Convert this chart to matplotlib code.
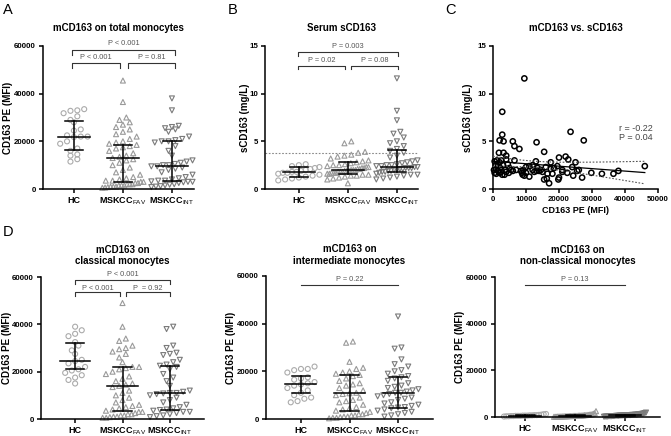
import numpy as np
import matplotlib
matplotlib.use("Agg")
import matplotlib.pyplot as plt

plt.rcParams["font.family"] = ["Liberation Sans", "DejaVu Sans"]
plt.rcParams["mathtext.fontset"] = "custom"
plt.rcParams["mathtext.rm"] = "Liberation Sans"

GROUPS = ["HC", r"MSKCC$_{\mathrm{FAV}}$", r"MSKCC$_{\mathrm{INT}}$"]

# ── A: mCD163 on total monocytes ───────────────────────────────
A_HC = [33500, 33000, 32800, 31800, 30500, 29000, 28000, 25000, 24500, 22500,
        22000, 22000, 21800, 20000, 19000, 17000, 16000, 14500, 14000, 12500, 11500]
A_FAV = [45500, 36500, 30000, 29000, 28000, 27000, 26000, 25000, 24000, 23000,
         22000, 21000, 20000, 19500, 19000, 18500, 18000, 17500, 17000, 16000,
         15000, 14000, 13500, 13000, 12500, 12000, 11000, 10000, 9000, 8000,
         7000, 6000, 5000, 4500, 4000, 3500, 3500, 3000, 3000, 2500, 2500, 2000,
         2000, 2000, 1500, 1500, 1500, 1000, 1000, 1000, 800, 600, 500]
A_INT = [38000, 33000, 26500, 26000, 25500, 25000, 24000, 22000, 21000, 20500,
         20000, 20000, 19500, 18000, 16000, 14000, 12000, 11500, 11000, 10500,
         10000, 10000, 9500, 9500, 9000, 8500, 8000, 7000, 6000, 5000, 4500,
         4000, 3500, 3500, 3200, 3000, 3000, 2800, 2500, 2000, 1800, 1500, 1200,
         1000, 800]
A_MED = [22000, 13000, 9800]
A_Q1 = [16500, 3000, 3500]
A_Q3 = [28500, 18500, 20000]

# ── B: serum sCD163 ────────────────────────────────────────────
B_HC = [2.6, 2.5, 2.4, 2.3, 2.2, 2.1, 2.0, 1.9, 1.8, 1.8, 1.7, 1.7, 1.6, 1.5,
        1.4, 1.3, 1.2, 1.1, 1.0, 0.9]
B_FAV = [5.0, 4.8, 3.9, 3.8, 3.6, 3.5, 3.4, 3.2, 3.0, 2.9, 2.8, 2.7, 2.6, 2.5,
         2.5, 2.4, 2.3, 2.3, 2.2, 2.2, 2.1, 2.1, 2.0, 2.0, 2.0, 1.9, 1.9, 1.9,
         1.8, 1.8, 1.8, 1.7, 1.7, 1.7, 1.6, 1.6, 1.5, 1.5, 1.4, 1.4, 1.3, 1.2,
         1.1, 1.0, 0.6]
B_INT = [11.6, 8.2, 7.2, 6.0, 5.8, 5.4, 5.0, 4.8, 4.5, 4.2, 4.0, 3.8, 3.5, 3.3,
         3.0, 2.9, 2.8, 2.7, 2.6, 2.5, 2.5, 2.4, 2.4, 2.3, 2.3, 2.2, 2.2, 2.2,
         2.1, 2.1, 2.0, 2.0, 1.9, 1.9, 1.8, 1.8, 1.7, 1.6, 1.5, 1.5, 1.4, 1.3,
         1.2, 1.1, 1.0]
B_MED = [1.8, 2.0, 2.3]
B_Q1 = [1.3, 1.6, 1.8]
B_Q3 = [2.3, 2.8, 4.1]
B_CUTOFF = 3.75

# ── C: mCD163 vs sCD163 ────────────────────────────────────────
C_X = [9500, 2800, 2800, 2000, 3200, 6000, 6500, 8000, 13200, 23500, 27500,
       15500, 1800, 3200, 4000, 20000, 22000, 22800, 17500, 25000, 500, 1200,
       2500, 6500, 13000, 800, 1500, 2200, 3000, 4500, 5000, 10000, 11000,
       12000, 13500, 14500, 16000, 18500, 19500, 21000, 24000, 26000, 46000,
       38000, 36500, 33000, 29800, 27000, 25500, 24300, 21000, 20000, 19800,
       18000, 17000, 16300, 15500, 15000, 14000, 12500, 11000, 10000, 9000,
       8500, 9200, 7000, 5500, 4000, 3500, 2800, 2000, 1500, 1000, 500, 300,
       1000, 2500, 3800, 4800, 6000, 8800, 12000, 13200, 16500, 17500, 22500,
       9500, 2000, 4000]
C_Y = [11.6, 8.1, 5.7, 5.1, 5.0, 5.0, 4.5, 4.2, 4.9, 6.0, 5.1, 3.9, 3.8, 3.8,
       3.5, 3.3, 3.4, 3.1, 2.8, 2.8, 2.9, 3.0, 3.0, 3.0, 2.9, 2.5, 2.4, 2.2,
       2.5, 2.6, 2.2, 2.3, 2.4, 2.5, 2.2, 2.0, 2.3, 2.2, 2.4, 2.0, 2.3, 2.0,
       2.4, 1.9, 1.6, 1.6, 1.7, 1.2, 1.9, 1.4, 1.8, 1.2, 1.0, 1.6, 0.6, 1.1,
       1.0, 1.8, 1.9, 1.8, 1.3, 1.7, 1.5, 1.9, 2.0, 2.0, 2.0, 1.8, 1.5, 1.5,
       1.7, 1.9, 1.6, 1.7, 2.0, 2.1, 1.8, 2.0, 1.7, 1.9, 1.7, 2.0, 1.9, 1.6,
       2.1, 1.7, 1.4, 2.8, 3.1]
C_STATS = "r = -0.22\nP = 0.04"

# ── D: classical / intermediate / non-classical ────────────────
D1_HC = [39000, 37500, 36000, 35000, 32500, 31000, 29000, 27500, 25000, 24500,
         23500, 22000, 21000, 20500, 19500, 18500, 17500, 16500, 15000]
D1_FAV = [49000, 39000, 34000, 33000, 31000, 30000, 29500, 28500, 27500, 26000,
          24000, 22000, 22000, 21500, 21000, 20000, 19000, 18000, 17000, 16000,
          15000, 14500, 14000, 13500, 12000, 11000, 10000, 9000, 8000, 7000,
          6000, 5500, 5000, 4500, 4000, 3500, 3000, 3000, 2500, 2000, 2000,
          1500, 1500, 1000, 1000, 800, 500, 500]
D1_INT = [39000, 38000, 31000, 30000, 28000, 27500, 27000, 25000, 24000, 23000,
          22500, 22000, 21000, 19000, 17500, 16000, 14000, 12000, 11500, 11000,
          11000, 10800, 10500, 10000, 9000, 8000, 7000, 6000, 5000, 4500, 4000,
          3800, 3500, 3000, 3000, 2500, 2000, 1500, 1200, 800]
D1_MED = [24500, 14000, 11000]
D1_Q1 = [21000, 3500, 4000]
D1_Q3 = [32000, 21800, 22500]

D2_HC = [22000, 21000, 21000, 20500, 19500, 17500, 17000, 16500, 15500, 15000,
         14500, 14000, 13000, 12000, 11000, 10000, 9000, 8500, 7500, 7000]
D2_FAV = [32500, 32000, 24000, 21500, 21000, 20000, 19500, 19000, 18500, 18000,
          17000, 16000, 15000, 14500, 14000, 13000, 12000, 11000, 10800, 10500,
          10000, 9000, 8000, 7500, 7000, 6000, 5000, 4500, 4000, 3500, 3000,
          2500, 2000, 2000, 1500, 1500, 1000, 1000, 800, 500, 500, 300]
D2_INT = [43000, 30000, 29500, 25000, 23000, 22000, 20500, 20000, 19000, 18000,
          17500, 17000, 16000, 15000, 14000, 13500, 13000, 12500, 12000, 11500,
          11000, 11000, 10500, 10000, 9500, 9000, 8500, 8000, 7000, 6500, 6000,
          5500, 5000, 4800, 4500, 4000, 3500, 3000, 2500, 2000, 1500, 1000]
D2_MED = [14500, 10800, 11000]
D2_Q1 = [11000, 3500, 4800]
D2_Q3 = [18000, 18500, 17500]

D3_HC = [1300, 1200, 1000, 900, 800, 800, 700, 700, 600, 600, 600, 500, 500,
         500, 400, 400, 300, 300, 200]
D3_FAV = [2500, 1600, 1400, 1200, 1100, 1000, 900, 900, 800, 800, 700, 700,
          600, 600, 600, 500, 500, 500, 500, 400, 400, 400, 400, 300, 300, 300,
          300, 200, 200, 200, 200, 100, 100, 100]
D3_INT = [1900, 1700, 1500, 1400, 1300, 1200, 1200, 1100, 1000, 1000, 900, 900,
          900, 800, 800, 800, 700, 700, 700, 700, 600, 600, 600, 500, 500, 500,
          400, 400, 400, 300, 300, 300, 200, 200, 200, 100]
D3_MED = [600, 500, 700]
D3_Q1 = [400, 300, 400]
D3_Q3 = [800, 800, 1000]

COLORS = ["#ababab", "#9a9a9a", "#7a7a7a"]
MARKERS = ["o", "^", "v"]
W, H = 671, 436
PCOL = "#555555"


def px_axes(x0, x1, ytop, ybot):
    return fig.add_axes([x0 / W, 1 - ybot / H, (x1 - x0) / W, (ybot - ytop) / H])


def style(ax, ylabel, lab_x, xsize=6.5):
    for s in ["top", "right"]:
        ax.spines[s].set_visible(False)
    for s in ["left", "bottom"]:
        ax.spines[s].set_linewidth(1.1)
    ax.tick_params(direction="out", length=3, width=1.1, labelsize=5.7, pad=2)
    ax.tick_params(axis="x", labelsize=xsize)
    for t in ax.get_xticklabels() + ax.get_yticklabels():
        t.set_fontweight("bold")
    ax.set_ylabel(ylabel, fontsize=7, fontweight="bold")
    ax.yaxis.set_label_coords(lab_x, 0.5)


def swarm(vals, ymax, rows=19, dx=0.14, max_half=0.42):
    vals = np.asarray(vals, dtype=float)
    v = np.sort(vals)
    bins = np.floor(v / (ymax / rows))
    x = np.zeros(len(v))
    for b in np.unique(bins):
        m = bins == b
        n = m.sum()
        half = min((n - 1) * dx / 2, max_half)
        x[m] = np.linspace(-half, half, n) if n > 1 else 0
    return x, v


def column_plot(ax, groups, med, q1, q3, ymax, xlim):
    for i, vals in enumerate(groups):
        dxs, v = swarm(vals, ymax)
        ax.scatter(i + dxs, v, s=13, marker=MARKERS[i], facecolors="none",
                   edgecolors=COLORS[i], linewidths=0.8, clip_on=False, zorder=2)
        ax.plot([i - 0.32, i + 0.32], [med[i], med[i]], color="black", lw=1.1, zorder=3)
        ax.plot([i, i], [q1[i], q3[i]], color="black", lw=1.1, zorder=3)
        for q in (q1[i], q3[i]):
            ax.plot([i - 0.19, i + 0.19], [q, q], color="black", lw=1.1, zorder=3)
    ax.set_xlim(*xlim)
    ax.set_ylim(0, ymax)
    ax.set_xticks(range(3))
    ax.set_xticklabels(GROUPS)


def bracket(ax, x1, x2, y, leg, text, ty):
    ax.plot([x1, x1, x2, x2], [leg, y, y, leg], color="#333333", lw=0.8, clip_on=False)
    ax.text((x1 + x2) / 2, ty, text, ha="center", va="center", fontsize=5.3,
            color=PCOL, clip_on=False)


def hline(ax, x1, x2, y, text, ty):
    ax.plot([x1, x2], [y, y], color="#333333", lw=0.8, clip_on=False)
    ax.text((x1 + x2) / 2, ty, text, ha="center", va="center", fontsize=5.3,
            color=PCOL, clip_on=False)


fig = plt.figure(figsize=(W / 100, H / 100), dpi=100)
TKW = dict(fontsize=7, fontweight="bold")

# A
axA = px_axes(43, 194, 46, 189)
column_plot(axA, [A_HC, A_FAV, A_INT], A_MED, A_Q1, A_Q3, 60000, (-0.63, 2.45))
axA.set_yticks([0, 20000, 40000, 60000])
style(axA, "CD163 PE (MFI)", -0.2)
axA.set_title("mCD163 on total monocytes", pad=11, **TKW)
bracket(axA, -0.04, 2.06, 58300, 56300, "P < 0.001", 61200)
bracket(axA, -0.04, 0.94, 52700, 50600, "P < 0.001", 55300)
bracket(axA, 1.1, 2.06, 52700, 50600, "P = 0.81", 55300)

# B
axB = px_axes(265, 418, 46, 189)
column_plot(axB, [B_HC, B_FAV, B_INT], B_MED, B_Q1, B_Q3, 15, (-0.69, 2.43))
axB.axhline(B_CUTOFF, color="#888888", lw=0.8, ls=(0, (1.5, 1.5)), zorder=1)
axB.set_yticks([0, 5, 10, 15])
style(axB, "sCD163 (mg/L)", -0.1)
axB.set_title("Serum sCD163", pad=11, **TKW)
bracket(axB, -0.02, 2.02, 14.35, 13.95, "P = 0.003", 14.9)
bracket(axB, -0.02, 0.94, 12.95, 12.6, "P = 0.02", 13.45)
bracket(axB, 1.06, 2.02, 12.95, 12.6, "P = 0.08", 13.45)

# C
axC = px_axes(493, 658, 46, 189)
cx = np.asarray(C_X, float)
cy = np.asarray(C_Y, float)
axC.scatter(cx, cy, s=14, facecolors="none", edgecolors="black", linewidths=1.1,
            clip_on=False, zorder=2)
slope, icpt = np.polyfit(cx, cy, 1)
xs = np.linspace(0, cx.max(), 100)
fit = icpt + slope * xs
n = len(cx)
resid = cy - (icpt + slope * cx)
se = np.sqrt(np.sum(resid ** 2) / (n - 2))
band = 1.99 * se * np.sqrt(1 / n + (xs - cx.mean()) ** 2 / np.sum((cx - cx.mean()) ** 2))
axC.plot(xs, fit, color="black", lw=0.9, zorder=3)
axC.plot(xs, fit + band, color="#555555", lw=0.8, ls=(0, (1.5, 1.5)), zorder=3)
axC.plot(xs, fit - band, color="#555555", lw=0.8, ls=(0, (1.5, 1.5)), zorder=3)
axC.set_xlim(0, 50000)
axC.set_ylim(0, 15)
axC.set_xticks(range(0, 50001, 10000))
axC.set_yticks([0, 5, 10, 15])
style(axC, "sCD163 (mg/L)", -0.12, xsize=5.7)
axC.set_xlabel("CD163 PE (MFI)", fontsize=6.5, fontweight="bold", labelpad=2)
axC.set_title("mCD163 vs. sCD163", pad=11, **TKW)
axC.text(38200, 5.85, C_STATS, fontsize=6.5, color="#444444", va="center",
         linespacing=1.0)

# D
TD = dict(pad=9, linespacing=1.25, **TKW)
axD1 = px_axes(41, 204, 277, 419)
column_plot(axD1, [D1_HC, D1_FAV, D1_INT], D1_MED, D1_Q1, D1_Q3, 60000, (-0.72, 2.72))
axD1.set_yticks([0, 20000, 40000, 60000])
style(axD1, "CD163 PE (MFI)", -0.18)
axD1.set_title("mCD163 on\nclassical monocytes", **TD)
bracket(axD1, 0.0, 2.0, 58700, 57000, "P < 0.001", 60900)
bracket(axD1, 0.0, 0.95, 53500, 52000, "P < 0.001", 55300)
bracket(axD1, 1.08, 2.0, 53500, 52000, "P  = 0.92", 55300)

axD2 = px_axes(266, 433, 276, 419)
column_plot(axD2, [D2_HC, D2_FAV, D2_INT], D2_MED, D2_Q1, D2_Q3, 60000, (-0.72, 2.72))
axD2.set_yticks([0, 20000, 40000, 60000])
style(axD2, "CD163 PE (MFI)", -0.18)
axD2.set_title("mCD163 on\nintermediate monocytes", **TD)
hline(axD2, 0.0, 2.0, 56200, "P = 0.22", 58600)

axD3 = px_axes(495, 660, 277, 417)
column_plot(axD3, [D3_HC, D3_FAV, D3_INT], D3_MED, D3_Q1, D3_Q3, 60000, (-0.6, 2.7))
axD3.set_yticks([0, 20000, 40000, 60000])
style(axD3, "CD163 PE (MFI)", -0.18)
axD3.set_title("mCD163 on\nnon-classical monocytes", **TD)
hline(axD3, 0.0, 2.0, 56600, "P = 0.13", 59000)

for lbl, x, y in [("A", 3, 10), ("B", 228, 10), ("C", 445, 10), ("D", 3, 232)]:
    fig.text(x / W, 1 - y / H, lbl, fontsize=10.5, va="center", ha="left")

fig.savefig("out.png", dpi=100)
